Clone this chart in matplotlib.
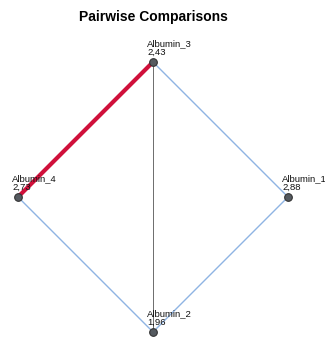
import numpy as np
import matplotlib
matplotlib.use("Agg")
import matplotlib.pyplot as plt

plt.rcParams['font.family'] = ['Liberation Sans', 'DejaVu Sans']

nodes = ["Albumin_1", "Albumin_2", "Albumin_3", "Albumin_4"]
mean_ranks = ["2,88", "1,96", "2,43", "2,73"]
angles_deg = [0, 270, 90, 180]
edges = [("Albumin_3", "Albumin_4"), ("Albumin_3", "Albumin_1"),
         ("Albumin_1", "Albumin_2"), ("Albumin_2", "Albumin_4"),
         ("Albumin_3", "Albumin_2")]
edge_kind = ["sig", "ns", "ns", "ns", "mid"]

fig = plt.figure(figsize=(3.25, 3.4), dpi=100)
ax = fig.add_axes([0, 0, 1, 1])
ax.set_xlim(-153/135, (325-153)/135)
ax.set_ylim(-143/135, (340-143)/135)
ax.axis('off')

pos = {n: (np.cos(np.radians(a)), np.sin(np.radians(a))) for n, a in zip(nodes, angles_deg)}

styles = {"sig": dict(color="#d0103a", lw=3.0, zorder=3),
          "ns": dict(color="#8fb4e3", lw=1.0, zorder=2),
          "mid": dict(color="#555555", lw=0.6, zorder=2)}
for (a, b), k in zip(edges, edge_kind):
    ax.plot([pos[a][0], pos[b][0]], [pos[a][1], pos[b][1]], solid_capstyle='butt', **styles[k])

for n, r in zip(nodes, mean_ranks):
    x, y = pos[n]
    ax.plot(x, y, 'o', ms=5.5, mfc="#555a60", mec="#333333", mew=0.8, zorder=5)
    ax.annotate(f"{n}\n{r}", (x, y), xytext=(-6, 5), textcoords='offset pixels',
                ha='left', va='bottom', fontsize=6.8, linespacing=0.9, color="#111111", zorder=6)

fig.text(153/325, 1 - 17/340, "Pairwise Comparisons", ha='center', va='center',
         fontsize=10, fontweight='bold')

fig.savefig("out.png", dpi=100)
